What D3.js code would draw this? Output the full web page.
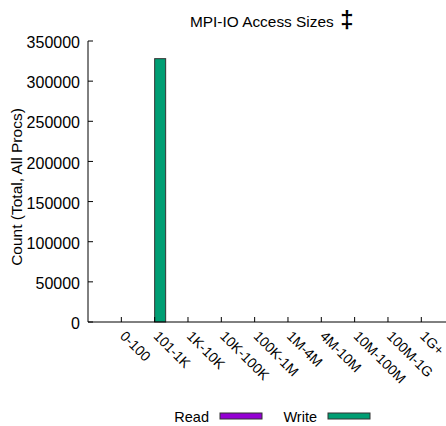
<!DOCTYPE html>
<html>
<head>
<meta charset="utf-8">
<script src="https://cdn.jsdelivr.net/npm/d3@7"></script>
<style>
  body { margin: 0; background: #fff; }
  svg { display: block; font-family: "Liberation Sans", Arial, sans-serif; }
</style>
</head>
<body>
<div id="chart"></div>
<script>
const categories = ['0-100', '101-1K', '1K-10K', '10K-100K', '100K-1M', '1M-4M', '4M-10M', '10M-100M', '100M-1G', '1G+'];
const readCounts = [0, 0, 0, 0, 0, 0, 0, 0, 0, 0];
const writeCounts = [0, 328000, 0, 0, 0, 0, 0, 0, 0, 0];
const yTicks = [0, 50000, 100000, 150000, 200000, 250000, 300000, 350000];
const series = [
  { name: 'Read', values: readCounts, color: '#9400d3' },
  { name: 'Write', values: writeCounts, color: '#009e73' },
];

const width = 446, height = 426;
const margin = { left: 88, top: 41, bottom: 322 };
const step = 33.33;

const svg = d3.select('#chart').append('svg')
  .attr('width', width)
  .attr('height', height);

// gnuplot-ish xrange [-1:10]
const x = d3.scaleLinear().domain([-1, 10]).range([margin.left, margin.left + step * 11]);
const y = d3.scaleLinear().domain([0, 350000]).range([margin.bottom, margin.top]);
const barW = 11;

// bars
series.forEach((s, si) => {
  svg.append('g')
    .selectAll('rect')
    .data(s.values.map((v, i) => ({ v, i })).filter(d => d.v > 0))
    .join('rect')
    .attr('x', d => x(d.i) + (si === 0 ? -barW : 0))
    .attr('y', d => y(d.v))
    .attr('width', barW)
    .attr('height', d => y(0) - y(d.v))
    .attr('fill', s.color)
    .attr('stroke', '#333')
    .attr('stroke-width', 1);
});

// axes
const axisG = svg.append('g').attr('stroke', '#000').attr('stroke-width', 1);
axisG.append('line')
  .attr('x1', margin.left).attr('x2', margin.left)
  .attr('y1', y(350000)).attr('y2', y(0));
axisG.append('line')
  .attr('x1', margin.left).attr('x2', width)
  .attr('y1', y(0)).attr('y2', y(0));

yTicks.forEach(t => {
  axisG.append('line')
    .attr('x1', margin.left).attr('x2', margin.left + 5)
    .attr('y1', y(t)).attr('y2', y(t));
  svg.append('text')
    .attr('x', margin.left - 8)
    .attr('y', y(t) + 1.5)
    .attr('dy', '0.35em')
    .attr('text-anchor', 'end')
    .attr('font-size', '16px')
    .text(t);
});

categories.forEach((c, i) => {
  axisG.append('line')
    .attr('x1', x(i)).attr('x2', x(i))
    .attr('y1', y(0)).attr('y2', y(0) - 5);
  svg.append('text')
    .attr('transform', `translate(${x(i) - 2},${y(0) + 15}) rotate(45)`)
    .attr('text-anchor', 'start')
    .attr('font-size', '14px')
    .text(c);
});

// y label
svg.append('text')
  .attr('transform', `translate(22,187) rotate(-90)`)
  .attr('text-anchor', 'middle')
  .attr('font-size', '15.5px')
  .text('Count (Total, All Procs)');

// title
svg.append('text')
  .attr('x', 190)
  .attr('y', 27)
  .attr('font-size', '15.4px')
  .text('MPI-IO Access Sizes');
svg.append('text')
  .attr('x', 347)
  .attr('y', 28)
  .attr('text-anchor', 'middle')
  .attr('font-size', '24px')
  .attr('font-weight', 'bold')
  .text('\u2021');

// legend
const legend = [{ tx: 209, sx: 220 }, { tx: 317, sx: 328 }];
series.forEach((s, i) => {
  svg.append('text')
    .attr('x', legend[i].tx)
    .attr('y', 422)
    .attr('text-anchor', 'end')
    .attr('font-size', '14.5px')
    .text(s.name);
  svg.append('rect')
    .attr('x', legend[i].sx)
    .attr('y', 413)
    .attr('width', 42)
    .attr('height', 6)
    .attr('fill', s.color)
    .attr('stroke', '#333')
    .attr('stroke-width', 1);
});
</script>
</body>
</html>
